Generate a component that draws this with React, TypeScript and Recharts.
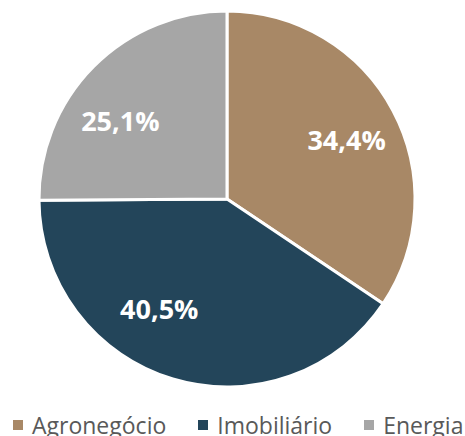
import React from "react";
import { PieChart, Pie, Cell, Legend } from "recharts";

const categories = ["Agronegócio", "Imobiliário", "Energia"];
const shares = [34.4, 40.5, 25.1];
const colors = ["#A88866", "#23455A", "#A6A6A6"];

// best-fit label tweaks (degrees / fraction of radius), styling only
const labelAngleNudge = [1.7, 15, -8.4];
const labelRadiusFactor = [0.71, 0.685, 0.705];

const data = categories.map((name, i) => ({ name, value: shares[i] }));

const RADIAN = Math.PI / 180;

const renderLabel = (props: any) => {
  const { cx, cy, midAngle, outerRadius, index, value } = props;
  const a = (midAngle - labelAngleNudge[index]) * RADIAN;
  const r = outerRadius * labelRadiusFactor[index];
  const x = cx + r * Math.cos(a);
  const y = cy - r * Math.sin(a);
  return (
    <text
      x={x}
      y={y}
      fill="#fff"
      textAnchor="middle"
      dominantBaseline="central"
      fontFamily="'Open Sans', sans-serif"
      fontWeight={700}
      fontSize={27}
    >
      {value.toFixed(1).replace(".", ",")}%
    </text>
  );
};

const renderLegend = () => (
  <div
    style={{
      display: "flex",
      alignItems: "center",
      paddingLeft: 13,
      fontFamily: "'Open Sans', sans-serif",
      fontSize: 23,
      lineHeight: "26px",
      color: "#595959",
      whiteSpace: "nowrap",
    }}
  >
    {categories.map((name, i) => (
      <span key={name} style={{ display: "flex", alignItems: "center", marginRight: 32 }}>
        <span style={{ width: 10, height: 10, background: colors[i], marginRight: 9 }} />
        {name}
      </span>
    ))}
  </div>
);

export default function App() {
  return (
    <div style={{ position: "absolute", left: 0, top: 0, width: 465, height: 436, overflow: "hidden", background: "#fff" }}>
      <PieChart width={465} height={436} margin={{ top: 0, right: 0, bottom: 0, left: 0 }}>
        <Pie
          data={data}
          dataKey="value"
          nameKey="name"
          cx={227}
          cy={199}
          outerRadius={188}
          startAngle={90}
          endAngle={-270}
          stroke="#fff"
          strokeWidth={3}
          label={renderLabel}
          labelLine={false}
          isAnimationActive={false}
        >
          {data.map((d, i) => (
            <Cell key={d.name} fill={colors[i]} />
          ))}
        </Pie>
        <Legend content={renderLegend} wrapperStyle={{ top: 412, left: 0, width: 465 }} />
      </PieChart>
    </div>
  );
}
